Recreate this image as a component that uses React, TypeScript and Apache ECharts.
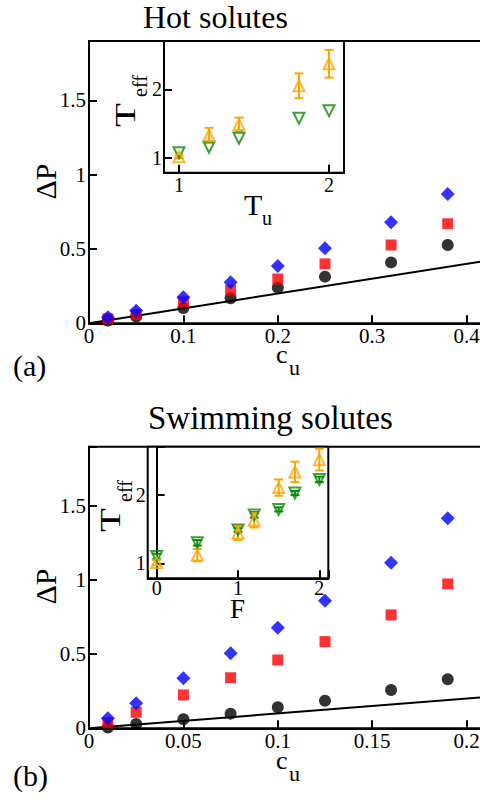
import React, { useEffect, useRef } from "react";
import * as echarts from "echarts";

// ---------- data: main panels ----------
const hotCu = [0.02, 0.05, 0.1, 0.15, 0.2, 0.25, 0.32, 0.38];
const hotBlue = [0.04, 0.085, 0.175, 0.276, 0.386, 0.505, 0.68, 0.87];
const hotRed = [0.03, 0.06, 0.145, 0.224, 0.298, 0.4, 0.527, 0.67];
const hotBlack = [0.018, 0.045, 0.103, 0.168, 0.24, 0.314, 0.41, 0.527];
const hotIdealX = [0, 0.45];

const swimCu = [0.01, 0.025, 0.05, 0.075, 0.1, 0.125, 0.16, 0.19];
const swimBlue = [0.067, 0.169, 0.337, 0.506, 0.679, 0.861, 1.117, 1.417];
const swimRed = [0.038, 0.108, 0.225, 0.341, 0.461, 0.585, 0.765, 0.974];
const swimBlack = [0.005, 0.029, 0.061, 0.099, 0.142, 0.186, 0.258, 0.331];
const swimIdealX = [0, 0.225];

// ---------- data: insets ----------
const hotTu = [1, 1.2, 1.4, 1.8, 2];
const hotOrange = [1.02, 1.33, 1.49, 2.05, 2.37];
const hotOrangeErr = [0.02, 0.11, 0.1, 0.18, 0.2];
const hotGreen = [1.08, 1.16, 1.29, 1.58, 1.69];

const swimF = [0, 0.5, 1, 1.2, 1.5, 1.7, 2];
const swimOrange = [1.01, 1.12, 1.44, 1.63, 2.11, 2.34, 2.52];
const swimOrangeErr = [0.04, 0.09, 0.1, 0.105, 0.12, 0.15, 0.16];
const swimGreen = [1.1, 1.3, 1.49, 1.71, 1.79, 2.03, 2.23];
const swimGreenErr = [0.04, 0.04, 0.03, 0.04, 0.03, 0.03, 0.04];

// ---------- tick labels ----------
const mainYTicks = [0, 0.5, 1, 1.5];
const hotXTicks = [0, 0.1, 0.2, 0.3, 0.4];
const swimXTicks = [0, 0.05, 0.1, 0.15, 0.2];
const hotInsetXTicks = [1, 2];
const swimInsetXTicks = [0, 1, 2];
const insetYTicks = [1, 2];

const FONT = "Liberation Serif";
const BLUE = "#0000ff";
const RED = "#ff0000";
const BLACK = "#000000";
const ORANGE = "#ffa500";
const GREEN = "#0a8a0a";

const pickLabel = (ticks: number[]) => (v: number) => {
  const t = ticks.find((k) => Math.abs(k - v) < 1e-7);
  return t === undefined ? "" : String(t);
};

const zip = (xs: number[], ys: number[]) => xs.map((x, i) => [x, ys[i]]);

function makeAxis(
  gridIndex: number,
  min: number,
  max: number,
  ticks: number[],
  fontSize: number,
  margin: number,
  interval?: number
) {
  const a: any = {
    gridIndex,
    type: "value",
    min,
    max,
    axisLine: { show: true, lineStyle: { color: BLACK, width: 2 } },
    axisTick: { inside: true, length: 8, lineStyle: { color: BLACK, width: 2 } },
    axisLabel: {
      margin,
      fontSize,
      fontFamily: FONT,
      fontWeight: "normal",
      color: BLACK,
      formatter: pickLabel(ticks),
    },
    splitLine: { show: false },
  };
  if (interval !== undefined) a.interval = interval;
  else {
    a.minInterval = 1;
    a.maxInterval = 1;
  }
  return a;
}

function errorSeries(xs: number[], ys: number[], errs: number[], color: string, axisIndex: number) {
  return {
    type: "custom",
    xAxisIndex: axisIndex,
    yAxisIndex: axisIndex,
    z: 3,
    data: xs.map((x, i) => [x, ys[i], errs[i]]),
    renderItem: (_params: any, api: any) => {
      const x = api.value(0);
      const y = api.value(1);
      const e = api.value(2);
      const p1 = api.coord([x, y + e]);
      const p2 = api.coord([x, y - e]);
      const w = 4.5;
      const style = { stroke: color, lineWidth: 2 };
      return {
        type: "group",
        children: [
          { type: "line", shape: { x1: p1[0], y1: p1[1], x2: p2[0], y2: p2[1] }, style },
          { type: "line", shape: { x1: p1[0] - w, y1: p1[1], x2: p1[0] + w, y2: p1[1] }, style },
          { type: "line", shape: { x1: p2[0] - w, y1: p2[1], x2: p2[0] + w, y2: p2[1] }, style },
        ],
      };
    },
  };
}

function mainSeries(xs: number[], b: number[], r: number[], k: number[], ideal: number[], idx: number) {
  return [
    {
      type: "line",
      xAxisIndex: idx,
      yAxisIndex: idx,
      data: zip(ideal, ideal),
      showSymbol: false,
      symbol: "none",
      lineStyle: { color: BLACK, width: 2 },
      z: 2,
    },
    {
      type: "scatter",
      xAxisIndex: idx,
      yAxisIndex: idx,
      data: zip(xs, k),
      symbol: "circle",
      symbolSize: 12,
      itemStyle: { color: BLACK },
      z: 3,
    },
    {
      type: "scatter",
      xAxisIndex: idx,
      yAxisIndex: idx,
      data: zip(xs, r),
      symbol: "rect",
      symbolSize: 11,
      itemStyle: { color: RED },
      z: 4,
    },
    {
      type: "scatter",
      xAxisIndex: idx,
      yAxisIndex: idx,
      data: zip(xs, b),
      symbol: "diamond",
      symbolSize: [14, 14],
      itemStyle: { color: BLUE },
      z: 5,
    },
  ];
}

function triSeries(xs: number[], ys: number[], color: string, down: boolean, idx: number) {
  return {
    type: "scatter",
    xAxisIndex: idx,
    yAxisIndex: idx,
    data: zip(xs, ys),
    symbol: "triangle",
    symbolSize: 11,
    symbolRotate: down ? 180 : 0,
    itemStyle: { color: "rgba(0,0,0,0)", borderColor: color, borderWidth: 2 },
    z: 4,
  };
}

function txt(text: string, x: number, y: number, fontSize: number, opts: any = {}) {
  return {
    type: "text",
    x,
    y,
    rotation: opts.rotation || 0,
    scaleX: opts.scaleX || 1,
    scaleY: opts.scaleY || 1,
    z: 10,
    style: {
      text,
      fontSize,
      fontFamily: FONT,
      fill: BLACK,
      align: opts.align || "left",
      verticalAlign: "middle",
    },
  };
}

export default function App() {
  const ref = useRef<HTMLDivElement>(null);
  useEffect(() => {
    if (!ref.current) return;
    const chart = echarts.init(ref.current, null, { renderer: "svg" });
    const gridBase = {
      show: true,
      borderColor: BLACK,
      borderWidth: 2,
      containLabel: false,
      outerBoundsMode: "none",
      backgroundColor: "#fff",
    };
    const R = Math.PI / 2;
    const option: any = {
      animation: false,
      backgroundColor: "#ffffff",
      textStyle: { fontFamily: FONT },
      grid: [
        { ...gridBase, left: 89, top: 41, width: 424.8, height: 282.3 },
        { ...gridBase, left: 164, top: 41, width: 180, height: 131.7 },
        { ...gridBase, left: 89, top: 446.7, width: 424.8, height: 281.6 },
        { ...gridBase, left: 147.7, top: 446.7, width: 180.6, height: 131.6 },
      ],
      xAxis: [
        makeAxis(0, 0, 0.45, hotXTicks, 21, 2, 0.1),
        makeAxis(1, 0.9, 2.1, hotInsetXTicks, 20, 2),
        makeAxis(2, 0, 0.225, swimXTicks, 21, 2, 0.05),
        makeAxis(3, -0.11, 2.11, swimInsetXTicks, 20, 0),
      ],
      yAxis: [
        makeAxis(0, 0, 1.9, mainYTicks, 21, 3, 0.5),
        makeAxis(1, 0.79, 2.7, insetYTicks, 20, 2),
        makeAxis(2, 0, 1.9, mainYTicks, 21, 3, 0.5),
        makeAxis(3, 0.78, 2.71, insetYTicks, 20, 2),
      ],
      series: [
        ...mainSeries(hotCu, hotBlue, hotRed, hotBlack, hotIdealX, 0),
        ...mainSeries(swimCu, swimBlue, swimRed, swimBlack, swimIdealX, 2),
        errorSeries(hotTu, hotOrange, hotOrangeErr, ORANGE, 1),
        triSeries(hotTu, hotGreen, GREEN, true, 1),
        triSeries(hotTu, hotOrange, ORANGE, false, 1),
        errorSeries(swimF, swimGreen, swimGreenErr, GREEN, 3),
        errorSeries(swimF, swimOrange, swimOrangeErr, ORANGE, 3),
        triSeries(swimF, swimGreen, GREEN, true, 3),
        triSeries(swimF, swimOrange, ORANGE, false, 3),
      ],
      graphic: [
        txt("Hot solutes", 143, 17, 32),
        txt("Swimming solutes", 148, 417.5, 33),
        txt("ΔP", 45, 181.5, 30, { rotation: R, align: "center" }),
        txt("ΔP", 45, 586.5, 30, { rotation: R, align: "center" }),
        txt("c", 276, 354, 26),
        txt("u", 289, 367, 22),
        txt("c", 276, 760, 26),
        txt("u", 289, 773, 22),
        txt("(a)", 13, 365.8, 30),
        txt("(b)", 13, 775, 30),
        txt("T", 244, 204, 30),
        txt("u", 262, 218, 20),
        txt("F", 230, 609, 27),
        txt("T", 125, 127, 30, { rotation: R, scaleX: 1.3 }),
        txt("eff", 140, 97, 20, { rotation: R }),
        txt("T", 110, 532, 30, { rotation: R, scaleX: 1.3 }),
        txt("eff", 125, 502, 20, { rotation: R }),
      ],
    };
    chart.setOption(option);
    return () => chart.dispose();
  }, []);
  return (
    <div
      ref={ref}
      style={{ position: "fixed", left: 0, top: 0, width: 480, height: 803, background: "#fff" }}
    />
  );
}
